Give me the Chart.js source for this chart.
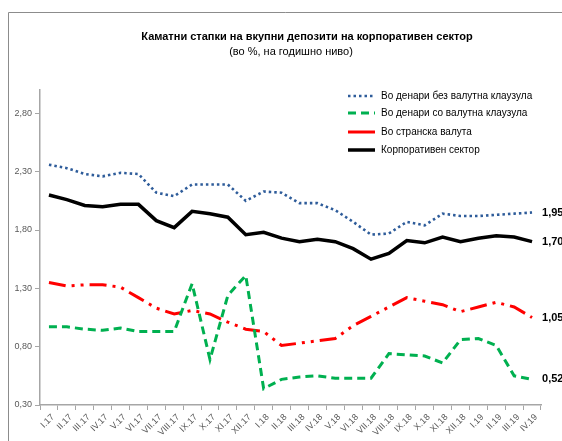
<!DOCTYPE html>
<html>
<head>
<meta charset="utf-8">
<script src="https://cdn.jsdelivr.net/npm/chart.js@4/dist/chart.umd.min.js"></script>
<style>
html,body{margin:0;padding:0;background:#fff;}
#wrap{width:562px;height:441px;position:relative;}
</style>
</head>
<body>
<div id="wrap"><canvas id="c" width="562" height="441"></canvas></div>
<script>
const categories = ["I.17","II.17","III.17","IV.17","V.17","VI.17","VII.17","VIII.17","IX.17","X.17","XI.17","XII.17",
  "I.18","II.18","III.18","IV.18","V.18","VI.18","VII.18","VIII.18","IX.18","X.18","XI.18","XII.18",
  "I.19","II.19","III.19","IV.19"];
const denariNoClause = [2.36,2.33,2.28,2.26,2.29,2.28,2.12,2.09,2.19,2.19,2.19,2.05,2.13,2.12,2.03,2.03,1.97,1.87,1.76,1.77,1.87,1.84,1.94,1.92,1.92,1.93,1.94,1.95];
const denariClause = [0.97,0.97,0.95,0.94,0.96,0.93,0.93,0.93,1.34,0.69,1.24,1.41,0.44,0.52,0.54,0.55,0.53,0.53,0.53,0.74,0.73,0.72,0.66,0.86,0.87,0.81,0.55,0.52];
const foreignCurrency = [1.35,1.32,1.33,1.33,1.31,1.22,1.13,1.08,1.11,1.08,1.01,0.95,0.93,0.81,0.83,0.85,0.87,0.98,1.06,1.14,1.22,1.19,1.16,1.10,1.14,1.18,1.14,1.05];
const corporateSector = [2.10,2.06,2.01,2.00,2.02,2.02,1.88,1.82,1.96,1.94,1.91,1.76,1.78,1.73,1.70,1.72,1.70,1.64,1.55,1.60,1.71,1.69,1.74,1.70,1.73,1.75,1.74,1.70];
const yTickValues = [0.30,0.80,1.30,1.80,2.30,2.80];
const seriesNames = ["Во денари без валутна клаузула","Во денари со валутна клаузула","Во странска валута","Корпоративен сектор"];
const titleText = "Каматни стапки на вкупни депозити на корпоративен сектор";
const subtitleText = "(во %, на годишно ниво)";

const fmt = v => v.toFixed(2).replace('.', ',');

const styles = [
  {color:'#2E5C9A', width:2.6, dash:[2.5,3], cap:'butt'},
  {color:'#00B050', width:3, dash:[8,5], cap:'butt'},
  {color:'#FF0000', width:3, dash:[17,6,3,6,3,6], cap:'butt'},
  {color:'#000000', width:3.5, dash:[], cap:'butt'}
];
const dataSets = [denariNoClause, denariClause, foreignCurrency, corporateSector];

const decor = {
  id:'decor',
  afterDraw(chart){
    const ctx = chart.ctx;
    ctx.save();
    // frame
    ctx.strokeStyle = '#8c8c8c';
    ctx.lineWidth = 1;
    ctx.beginPath();
    ctx.moveTo(8.5, 441); ctx.lineTo(8.5, 12.5); ctx.lineTo(562, 12.5);
    ctx.stroke();
    // title
    ctx.fillStyle = '#000';
    ctx.textAlign = 'center';
    ctx.textBaseline = 'middle';
    ctx.font = 'bold 11px "Liberation Sans", Arial, sans-serif';
    ctx.fillText(titleText, 307, 37);
    ctx.font = '11px "Liberation Sans", Arial, sans-serif';
    ctx.fillText(subtitleText, 291, 52);
    // legend
    const rows = [96, 113, 132, 150];
    ctx.textAlign = 'left';
    ctx.font = '10px "Liberation Sans", Arial, sans-serif';
    seriesNames.forEach((name, i) => {
      const s = styles[i];
      ctx.beginPath();
      ctx.strokeStyle = s.color;
      ctx.lineWidth = s.width;
      ctx.setLineDash(i === 2 ? [] : s.dash);
      ctx.moveTo(348, rows[i]); ctx.lineTo(375, rows[i]);
      ctx.stroke();
      ctx.setLineDash([]);
      ctx.fillStyle = '#000';
      ctx.fillText(name, 381, rows[i]);
    });
    // end labels
    const yScale = chart.scales.y, xScale = chart.scales.x;
    const last = categories.length - 1;
    ctx.font = 'bold 11px "Liberation Sans", Arial, sans-serif';
    ctx.fillStyle = '#000';
    dataSets.forEach(arr => {
      const v = arr[last];
      ctx.fillText(fmt(v), xScale.getPixelForValue(last) + 10, yScale.getPixelForValue(v));
    });
    ctx.restore();
  }
};

new Chart(document.getElementById('c'), {
  type:'line',
  data:{
    labels: categories,
    datasets: dataSets.map((arr, i) => ({
      label: seriesNames[i],
      data: arr,
      borderColor: styles[i].color,
      backgroundColor: styles[i].color,
      borderWidth: styles[i].width,
      borderDash: styles[i].dash,
      borderCapStyle: styles[i].cap,
      pointRadius: 0,
      tension: 0,
      fill: false
    }))
  },
  options:{
    responsive:false,
    animation:false,
    layout:{padding:{left:0, top:90, right:21, bottom:0}},
    plugins:{legend:{display:false}, title:{display:false}, tooltip:{enabled:false}},
    scales:{
      x:{
        offset:true,
        grid:{display:true, drawOnChartArea:false, offset:true, color:'#a6a6a6', tickLength:5, lineWidth:1},
        border:{display:true, color:'#a6a6a6', width:1.5},
        ticks:{minRotation:45, maxRotation:45, autoSkip:false, color:'#595959', padding:2, labelOffset:4,
          font:{family:'"Liberation Sans", Arial, sans-serif', size:9}},
        afterFit(s){ s.height = 36; }
      },
      y:{
        min:0.3, max:3.0,
        afterBuildTicks(s){ s.ticks = yTickValues.map(v => ({value:v})); },
        grid:{display:true, drawOnChartArea:false, color:'#a6a6a6', tickLength:5},
        border:{display:true, color:'#a6a6a6', width:1.5},
        ticks:{color:'#595959', padding:3, callback:v => fmt(v),
          font:{family:'"Liberation Sans", Arial, sans-serif', size:9}},
        afterFit(s){ s.width = 40; }
      }
    }
  },
  plugins:[decor]
});
</script>
</body>
</html>
